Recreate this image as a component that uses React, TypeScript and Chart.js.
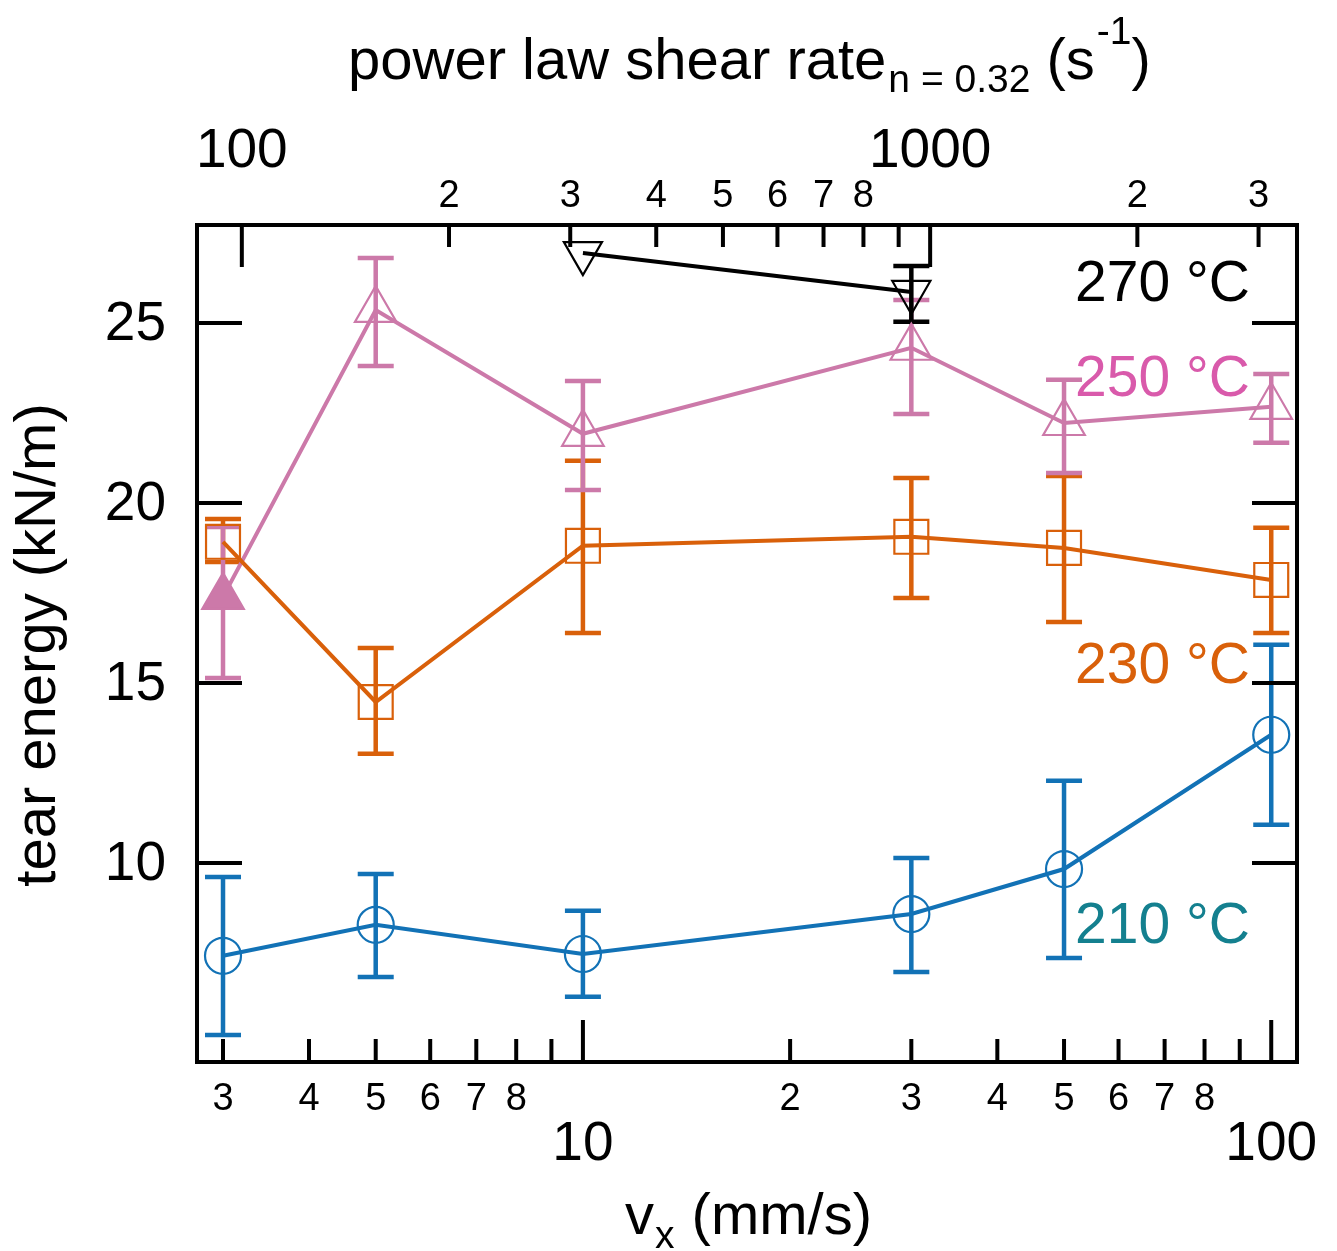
import React, { useEffect, useRef } from "react";
import { Chart, registerables } from "chart.js";
Chart.register(...registerables);

// ---- data ----
const speeds = [3, 5, 10, 30, 50, 100];
const t210 = [7.42, 8.28, 7.47, 8.58, 9.83, 13.56];
const t210Lo = [5.22, 6.83, 6.28, 6.97, 7.36, 11.06];
const t210Hi = [9.61, 9.69, 8.67, 10.14, 12.28, 16.06];
const t230 = [18.92, 14.47, 18.81, 19.06, 18.75, 17.86];
const t230Lo = [18.36, 13.03, 16.39, 17.36, 16.69, 16.39];
const t230Hi = [19.55, 15.97, 21.17, 20.69, 20.75, 19.31];
const t250 = [17.39, 25.36, 21.92, 24.31, 22.22, 22.67];
const t250Lo = [15.14, 23.8, 20.36, 22.47, 20.83, 21.67];
const t250Hi = [19.33, 26.8, 23.39, 25.64, 23.42, 23.58];
const speeds270 = [10, 30];
const t270 = [26.94, 25.86];
const t270Lo: (number | null)[] = [null, 25.03];
const t270Hi: (number | null)[] = [null, 26.58];

const seriesNames = ["210 °C", "230 °C", "250 °C", "270 °C"];

// axis ranges / ticks
const xMin = 2.75;
const xMax = 109;
const shearFactor = 31.3; // shear rate (s^-1) per mm/s
const yMin = 4.47;
const yMax = 27.72;
const yTicks = [10, 15, 20, 25];
const bottomMinor = [3, 4, 5, 6, 7, 8, 9, 20, 30, 40, 50, 60, 70, 80, 90];
const bottomMinorLabels = ["3", "4", "5", "6", "7", "8", "", "2", "3", "4", "5", "6", "7", "8", ""];
const bottomMajor = [10, 100];
const bottomMajorLabels = ["10", "100"];
const topMinor = [200, 300, 400, 500, 600, 700, 800, 900, 2000, 3000];
const topMinorLabels = ["2", "3", "4", "5", "6", "7", "8", "", "2", "3"];
const topMajor = [100, 1000];
const topMajorLabels = ["100", "1000"];

const BLUE = "#1272b6";
const ORANGE = "#d9600a";
const PINK = "#cc79a9";
const BLACK = "#000000";
const LABEL_BLUE = "#14808f";
const LABEL_PINK = "#d95aab";
const LABEL_ORANGE = "#d9600a";

const FONT = "'Liberation Sans', Arial, sans-serif";

function pts(xs: number[], ys: number[]) {
  return xs.map((x, i) => ({ x, y: ys[i] }));
}

const errorSets = [
  { xs: speeds, lo: t210Lo, hi: t210Hi, color: BLUE },
  { xs: speeds, lo: t230Lo, hi: t230Hi, color: ORANGE },
  { xs: speeds, lo: t250Lo, hi: t250Hi, color: PINK },
  { xs: speeds270, lo: t270Lo, hi: t270Hi, color: BLACK },
];

const decorPlugin = {
  id: "decor",
  beforeDatasetsDraw(chart: any) {
    const { ctx, chartArea: a } = chart;
    const xs = chart.scales.x;
    const ys = chart.scales.y;
    ctx.save();
    ctx.beginPath();
    ctx.rect(a.left, a.top, a.right - a.left, a.bottom - a.top);
    ctx.clip();
    ctx.lineWidth = 4.5;
    const cap = 18;
    errorSets.forEach((s) => {
      ctx.strokeStyle = s.color;
      s.xs.forEach((x, i) => {
        const lo = s.lo[i];
        const hi = s.hi[i];
        if (lo == null || hi == null) return;
        const px = xs.getPixelForValue(x);
        const p1 = ys.getPixelForValue(lo);
        const p2 = ys.getPixelForValue(hi);
        ctx.beginPath();
        ctx.moveTo(px, p1);
        ctx.lineTo(px, p2);
        ctx.moveTo(px - cap, p1);
        ctx.lineTo(px + cap, p1);
        ctx.moveTo(px - cap, p2);
        ctx.lineTo(px + cap, p2);
        ctx.stroke();
      });
    });
    ctx.restore();
  },
  afterDraw(chart: any) {
    const { ctx, chartArea: a } = chart;
    const xs = chart.scales.x;
    const xt = chart.scales.x2;
    const ys = chart.scales.y;
    ctx.save();
    ctx.strokeStyle = "#000";
    ctx.fillStyle = "#000";
    ctx.lineWidth = 4;
    ctx.lineCap = "butt";
    // frame
    ctx.strokeRect(a.left, a.top, a.right - a.left, a.bottom - a.top);
    const line = (x1: number, y1: number, x2: number, y2: number) => {
      ctx.beginPath();
      ctx.moveTo(x1, y1);
      ctx.lineTo(x2, y2);
      ctx.stroke();
    };
    // y ticks both sides
    yTicks.forEach((v) => {
      const py = ys.getPixelForValue(v);
      line(a.left, py, a.left + 45, py);
      line(a.right, py, a.right - 45, py);
    });
    // bottom ticks
    bottomMinor.forEach((v) => {
      const px = xs.getPixelForValue(v);
      line(px, a.bottom, px, a.bottom - 23);
    });
    bottomMajor.forEach((v) => {
      const px = xs.getPixelForValue(v);
      line(px, a.bottom, px, a.bottom - 42);
    });
    // top ticks
    topMinor.forEach((v) => {
      const px = xt.getPixelForValue(v);
      line(px, a.top, px, a.top + 22);
    });
    topMajor.forEach((v) => {
      const px = xt.getPixelForValue(v);
      line(px, a.top, px, a.top + 42);
    });

    // tick labels
    ctx.textAlign = "center";
    ctx.textBaseline = "alphabetic";
    ctx.font = `38px ${FONT}`;
    bottomMinor.forEach((v, i) => {
      ctx.fillText(bottomMinorLabels[i], xs.getPixelForValue(v), 1110);
    });
    topMinor.forEach((v, i) => {
      ctx.fillText(topMinorLabels[i], xt.getPixelForValue(v), 207);
    });
    ctx.font = `55px ${FONT}`;
    bottomMajor.forEach((v, i) => {
      ctx.fillText(bottomMajorLabels[i], xs.getPixelForValue(v), 1160);
    });
    topMajor.forEach((v, i) => {
      ctx.fillText(topMajorLabels[i], xt.getPixelForValue(v), 167);
    });
    ctx.textAlign = "right";
    ctx.textBaseline = "middle";
    yTicks.forEach((v) => {
      ctx.fillText(String(v), 166, ys.getPixelForValue(v) + 2);
    });

    // y title
    ctx.save();
    ctx.translate(55, 645);
    ctx.rotate(-Math.PI / 2);
    ctx.textAlign = "center";
    ctx.textBaseline = "alphabetic";
    ctx.font = `58px ${FONT}`;
    ctx.fillText("tear energy (kN/m)", 0, 0);
    ctx.restore();

    // bottom title: v_x (mm/s)
    ctx.textAlign = "left";
    ctx.textBaseline = "alphabetic";
    let x = 625;
    const by = 1234;
    ctx.font = `58px ${FONT}`;
    ctx.fillText("v", x, by);
    x += ctx.measureText("v").width;
    ctx.font = `39px ${FONT}`;
    ctx.fillText("x", x + 1, by + 14);
    x += ctx.measureText("x").width + 2;
    ctx.font = `58px ${FONT}`;
    ctx.fillText(" (mm/s)", x, by);

    // top title
    x = 348;
    const ty = 79;
    ctx.font = `58px ${FONT}`;
    ctx.fillText("power law shear rate", x, ty);
    x += ctx.measureText("power law shear rate").width + 2;
    ctx.font = `39px ${FONT}`;
    ctx.fillText("n = 0.32", x, ty + 13);
    x += ctx.measureText("n = 0.32").width;
    ctx.font = `58px ${FONT}`;
    ctx.fillText(" (s", x, ty);
    x += ctx.measureText(" (s").width + 2;
    ctx.font = `39px ${FONT}`;
    ctx.fillText("-1", x, ty - 35);
    x += ctx.measureText("-1").width;
    ctx.font = `58px ${FONT}`;
    ctx.fillText(")", x, ty);

    // series labels
    ctx.textAlign = "right";
    ctx.textBaseline = "middle";
    ctx.font = `57px ${FONT}`;
    const labels = [
      { t: seriesNames[3], c: BLACK, y: 285 },
      { t: seriesNames[2], c: LABEL_PINK, y: 380 },
      { t: seriesNames[1], c: LABEL_ORANGE, y: 667 },
      { t: seriesNames[0], c: LABEL_BLUE, y: 927 },
    ];
    labels.forEach((l) => {
      ctx.fillStyle = l.c;
      ctx.fillText(l.t, 1250, l.y);
    });
    ctx.restore();
  },
};

export default function App() {
  const ref = useRef<HTMLCanvasElement | null>(null);
  useEffect(() => {
    if (!ref.current) return;
    const common = {
      showLine: true,
      borderWidth: 4,
      pointBorderWidth: 2.2,
      pointHoverRadius: 0,
    };
    const chart = new Chart(ref.current, {
      type: "scatter",
      data: {
        datasets: [
          {
            ...common,
            label: seriesNames[0],
            data: pts(speeds, t210),
            borderColor: BLUE,
            backgroundColor: "rgba(0,0,0,0)",
            pointStyle: "circle",
            pointRadius: 18,
          },
          {
            ...common,
            label: seriesNames[1],
            data: pts(speeds, t230),
            borderColor: ORANGE,
            backgroundColor: "rgba(0,0,0,0)",
            pointStyle: "rect",
            pointRadius: 24,
          },
          {
            ...common,
            label: seriesNames[2],
            data: pts(speeds, t250),
            borderColor: PINK,
            backgroundColor: speeds.map((_, i) => (i === 0 ? PINK : "rgba(0,0,0,0)")),
            pointBackgroundColor: speeds.map((_, i) => (i === 0 ? PINK : "rgba(0,0,0,0)")),
            pointStyle: "triangle",
            pointRadius: 24,
          },
          {
            ...common,
            label: seriesNames[3],
            data: pts(speeds270, t270),
            borderColor: BLACK,
            backgroundColor: "rgba(0,0,0,0)",
            pointStyle: "triangle",
            pointRotation: 180,
            pointRadius: 22,
          },
        ],
      },
      options: {
        animation: false,
        responsive: false,
        maintainAspectRatio: false,
        layout: { padding: { left: 197, top: 225, right: 40, bottom: 189 } },
        plugins: { legend: { display: false }, tooltip: { enabled: false } },
        events: [],
        scales: {
          x: { type: "logarithmic", min: xMin, max: xMax, display: false, position: "bottom" },
          x2: {
            type: "logarithmic",
            min: xMin * shearFactor,
            max: xMax * shearFactor,
            display: false,
            position: "top",
          },
          y: { type: "linear", min: yMin, max: yMax, display: false },
        },
      },
      plugins: [decorPlugin],
    } as any);
    return () => chart.destroy();
  }, []);
  return (
    <div style={{ position: "absolute", left: 0, top: 0, width: 1337, height: 1251, background: "#fff" }}>
      <canvas ref={ref} width={1337} height={1251} style={{ width: 1337, height: 1251 }} />
    </div>
  );
}
